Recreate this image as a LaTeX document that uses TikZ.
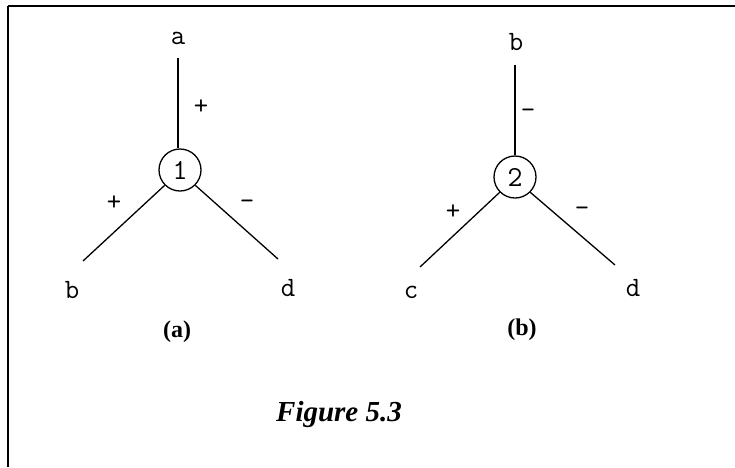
\documentclass[tikz,border=0pt]{standalone}
\usepackage{fontspec}
\setmainfont{Liberation Serif}
\begin{document}
\begin{tikzpicture}[x=1pt,y=-1pt,
  lbl/.style={font=\ttfamily\fontsize{28}{28}\selectfont, inner sep=0pt},
  sgn/.style={font=\ttfamily\fontsize{28}{28}\selectfont, inner sep=0pt},
  vtx/.style={circle, draw, line width=1.3pt, minimum size=42pt, inner sep=0pt, font=\ttfamily\fontsize{29}{29}\selectfont},
  edge/.style={line width=1.3pt},
  captxt/.style={font=\bfseries\fontsize{24}{24}\selectfont, inner sep=0pt}]
\useasboundingbox (0,0) rectangle (735,467);
% frame
\draw[line width=2.5pt] (8,6) -- (735,6);
\draw[line width=2pt] (8,6) -- (8,467);
% (a)
\node[vtx] (n1) at (180,170) {1};
\coordinate (ta) at (178,58);
\coordinate (la) at (83,261);
\coordinate (ra) at (278,259);
\draw[edge] (n1.north) ++(-2,0) -- (ta);
\draw[edge] (n1.-135) -- (la);
\draw[edge] (n1.-45) -- (ra);
\node[lbl] (a1) at (178,38) {a};
\node[lbl] (b1) at (72,290) {b};
\node[lbl] (d1) at (288,288) {d};
\node[sgn] (s1) at (201,107) {+};
\node[sgn] (s2) at (114,203) {+};
\node[sgn] (s3) at (247,205) {-};
\node[captxt] (capa) at (177,332) {(a)};
% (b)
\node[vtx] (n2) at (515,177) {2};
\coordinate (tb) at (515,65);
\coordinate (lb) at (420,267);
\coordinate (rb) at (615,265);
\draw[edge] (n2.north) -- (tb);
\draw[edge] (n2.-135) -- (lb);
\draw[edge] (n2.-45) -- (rb);
\node[lbl] (b2) at (516,42) {b};
\node[lbl] (c2) at (411,292) {c};
\node[lbl] (d2) at (633,288) {d};
\node[sgn] (s4) at (528,114) {-};
\node[sgn] (s5) at (453,212) {+};
\node[sgn] (s6) at (582,212) {-};
\node[captxt] (capb) at (522,330) {(b)};
% caption
\node[font=\bfseries\itshape\fontsize{29}{29}\selectfont, inner sep=0pt] (fig) at (339,415) {Figure 5.3};
\end{tikzpicture}
\end{document}
